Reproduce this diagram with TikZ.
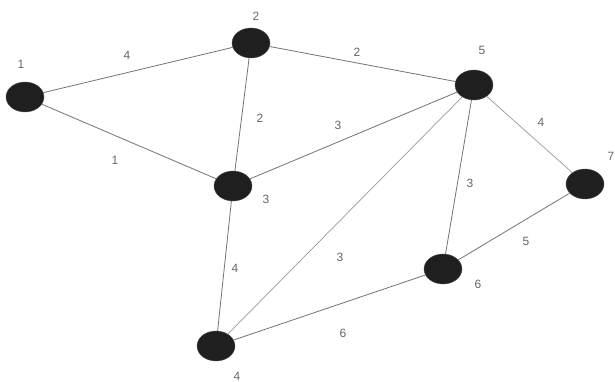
\documentclass[tikz,border=0pt]{standalone}
\usepackage{fontspec}
\setmainfont{Liberation Sans}
\usetikzlibrary{shapes.geometric}
\begin{document}
\begin{tikzpicture}[x=1pt,y=-1pt,
  vtx/.style={ellipse,fill=black!88,draw=black!70,minimum width=38pt,minimum height=30pt,inner sep=0pt},
  edge/.style={draw=black!55,line width=0.8pt},
  lightedge/.style={draw=black!40,line width=0.7pt},
  lbl/.style={text=black!60,font=\fontsize{12}{14}\selectfont,inner sep=0pt}]
\useasboundingbox (0,0) rectangle (615,382);
\node[vtx] (n1) at (25,97) {};
\node[vtx] (n2) at (251,43) {};
\node[vtx] (n5) at (474,85) {};
\node[vtx] (n7) at (585,184) {};
\node[vtx] (n3) at (233,186) {};
\node[vtx] (n6) at (443,269) {};
\node[vtx] (n4) at (216,346) {};
\path[edge] (n1) -- (n2);
\path[edge] (n2) -- (n5);
\path[edge] (n1) -- (n3);
\path[edge] (n2) -- (n3);
\path[edge] (n3) -- (n5);
\path[lightedge] (n5) -- (n7);
\path[edge] (n5) -- (n6);
\path[lightedge] (n5) -- (n4);
\path[edge] (n3) -- (n4);
\path[edge] (n6) -- (n7);
\path[edge] (n4) -- (n6);
\node[lbl] (t1) at (21,64) {1};
\node[lbl] (t2) at (256,16) {2};
\node[lbl] (t5) at (482,50) {5};
\node[lbl] (t7) at (611,156) {7};
\node[lbl] (t3) at (266,199) {3};
\node[lbl] (t6) at (478,284) {6};
\node[lbl] (t4) at (237,376) {4};
\node[lbl] (e12) at (127,55) {4};
\node[lbl] (e25) at (357,52) {2};
\node[lbl] (e13) at (115,160) {1};
\node[lbl] (e23) at (260,118) {2};
\node[lbl] (e35) at (338,125) {3};
\node[lbl] (e57) at (541,122) {4};
\node[lbl] (e56) at (470,183) {3};
\node[lbl] (e54) at (340,257) {3};
\node[lbl] (e34) at (235,268) {4};
\node[lbl] (e67) at (526,241) {5};
\node[lbl] (e46) at (343,333) {6};
\end{tikzpicture}
\end{document}
